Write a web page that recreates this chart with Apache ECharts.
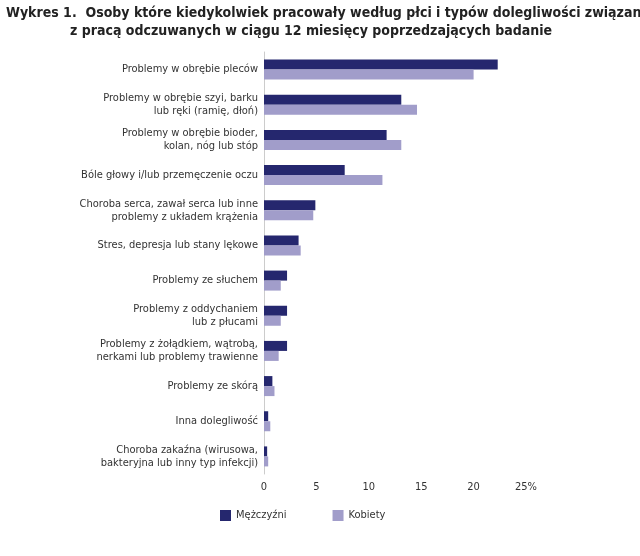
<!DOCTYPE html>
<html>
<head>
    <meta charset="utf-8">
    <title>Wykres 1</title>
    <style>body{margin:0;background:#fff;}</style>
</head>
<body>
    <div id="main" style="width: 640px;height:556px;"></div>
    <script src="https://cdn.jsdelivr.net/npm/echarts@6/dist/echarts.min.js"></script>
    <script>
        var categories = [
            'Problemy w obrębie pleców',
            'Problemy w obrębie szyi, barku\nlub ręki (ramię, dłoń)',
            'Problemy w obrębie bioder,\nkolan, nóg lub stóp',
            'Bóle głowy i/lub przemęczenie oczu',
            'Choroba serca, zawał serca lub inne\nproblemy z układem krążenia',
            'Stres, depresja lub stany lękowe',
            'Problemy ze słuchem',
            'Problemy z oddychaniem\nlub z płucami',
            'Problemy z żołądkiem, wątrobą,\nnerkami lub problemy trawienne',
            'Problemy ze skórą',
            'Inna dolegliwość',
            'Choroba zakaźna (wirusowa,\nbakteryjna lub inny typ infekcji)'
        ];
        var men = [22.3, 13.1, 11.7, 7.7, 4.9, 3.3, 2.2, 2.2, 2.2, 0.8, 0.4, 0.3];
        var women = [20.0, 14.6, 13.1, 11.3, 4.7, 3.5, 1.6, 1.6, 1.4, 1.0, 0.6, 0.4];
        var tickLabels = ['0', '5', '10', '15', '20', '25%'];

        var font = "'Liberation Sans Narrow', 'DejaVu Sans Condensed', sans-serif";
        var myChart = echarts.init(document.getElementById('main'));
        var option = {
            animation: false,
            textStyle: { fontFamily: font },
            title: [
                { text: 'Wykres 1.  Osoby które kiedykolwiek pracowały według płci i typów dolegliwości związanych',
                  left: 1, top: 1, textStyle: { fontSize: 14, fontWeight: 'bold', color: '#222', fontFamily: font } },
                { text: 'z pracą odczuwanych w ciągu 12 miesięcy poprzedzających badanie',
                  left: 65, top: 19, textStyle: { fontSize: 14, fontWeight: 'bold', color: '#222', fontFamily: font } }
            ],
            legend: {
                bottom: 30, left: 215, itemGap: 46, itemWidth: 11, itemHeight: 11, icon: 'rect',
                textStyle: { fontSize: 11, color: '#333' },
                data: ['Mężczyźni', 'Kobiety']
            },
            grid: { left: 264, right: 114, top: 52, bottom: 82 },
            xAxis: {
                type: 'value', min: 0, max: 25, interval: 5,
                axisLabel: { fontSize: 11, color: '#333', formatter: function (v) { return tickLabels[v / 5]; } },
                splitLine: { show: false },
                axisLine: { show: false }, axisTick: { show: false }
            },
            yAxis: {
                type: 'category', inverse: true, data: categories,
                axisLine: { show: true, lineStyle: { color: '#ccc' } },
                axisTick: { show: false },
                axisLabel: { fontSize: 11, color: '#333', lineHeight: 13, margin: 6 }
            },
            series: [
                { name: 'Mężczyźni', type: 'bar', data: men, barWidth: 10, barGap: '0%',
                  itemStyle: { color: '#25276e' } },
                { name: 'Kobiety', type: 'bar', data: women, barWidth: 10,
                  itemStyle: { color: '#a19dca' } }
            ]
        };
        myChart.setOption(option);
    </script>
</body>
</html>
